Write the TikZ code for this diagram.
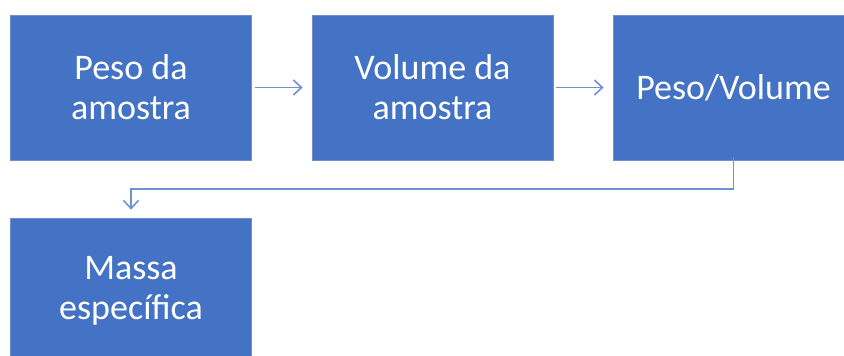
\documentclass[tikz,border=0pt]{standalone}
\usepackage{fontspec}
\setmainfont{Carlito}
\usetikzlibrary{arrows.meta}
\definecolor{boxblue}{HTML}{4472C4}
\definecolor{boxedge}{HTML}{6F8FD0}
\definecolor{linkblue}{HTML}{6F91D2}
\begin{document}
\begin{tikzpicture}[x=1pt,y=-1pt,
  box/.style={rectangle, fill=boxblue, draw=boxedge, line width=0.8pt,
    minimum width=241pt, minimum height=145pt, text=white, align=center,
    font=\fontsize{36}{40}\selectfont, inner sep=0pt},
  link/.style={draw=linkblue, line width=1.6pt,
    -{Straight Barb[length=8pt,width=15pt,line width=1.6pt]}}]
\useasboundingbox (0,0) rectangle (844,356);
\clip (0,0) rectangle (844,356);
\node[box] (b1) at (131,87.5) {Peso da\\amostra};
\node[box] (b2) at (432.5,87.5) {Volume da\\amostra};
\node[box] (b3) at (733.5,87.5) {Peso/Volume};
\node[box] (b4) at (131,290.5) {Massa\\específica};
\draw[link, shorten <=3pt, shorten >=9pt] (b1.east) -- (b2.west);
\draw[link, shorten <=3pt, shorten >=9pt] (b2.east) -- (b3.west);
\coordinate (c1) at (733.5,189);
\coordinate (c2) at (131,189);
\draw[link, shorten >=8pt] ([yshift=3pt]b3.south) -- (c1) -- (c2) -- (b4.north);
\end{tikzpicture}
\end{document}
